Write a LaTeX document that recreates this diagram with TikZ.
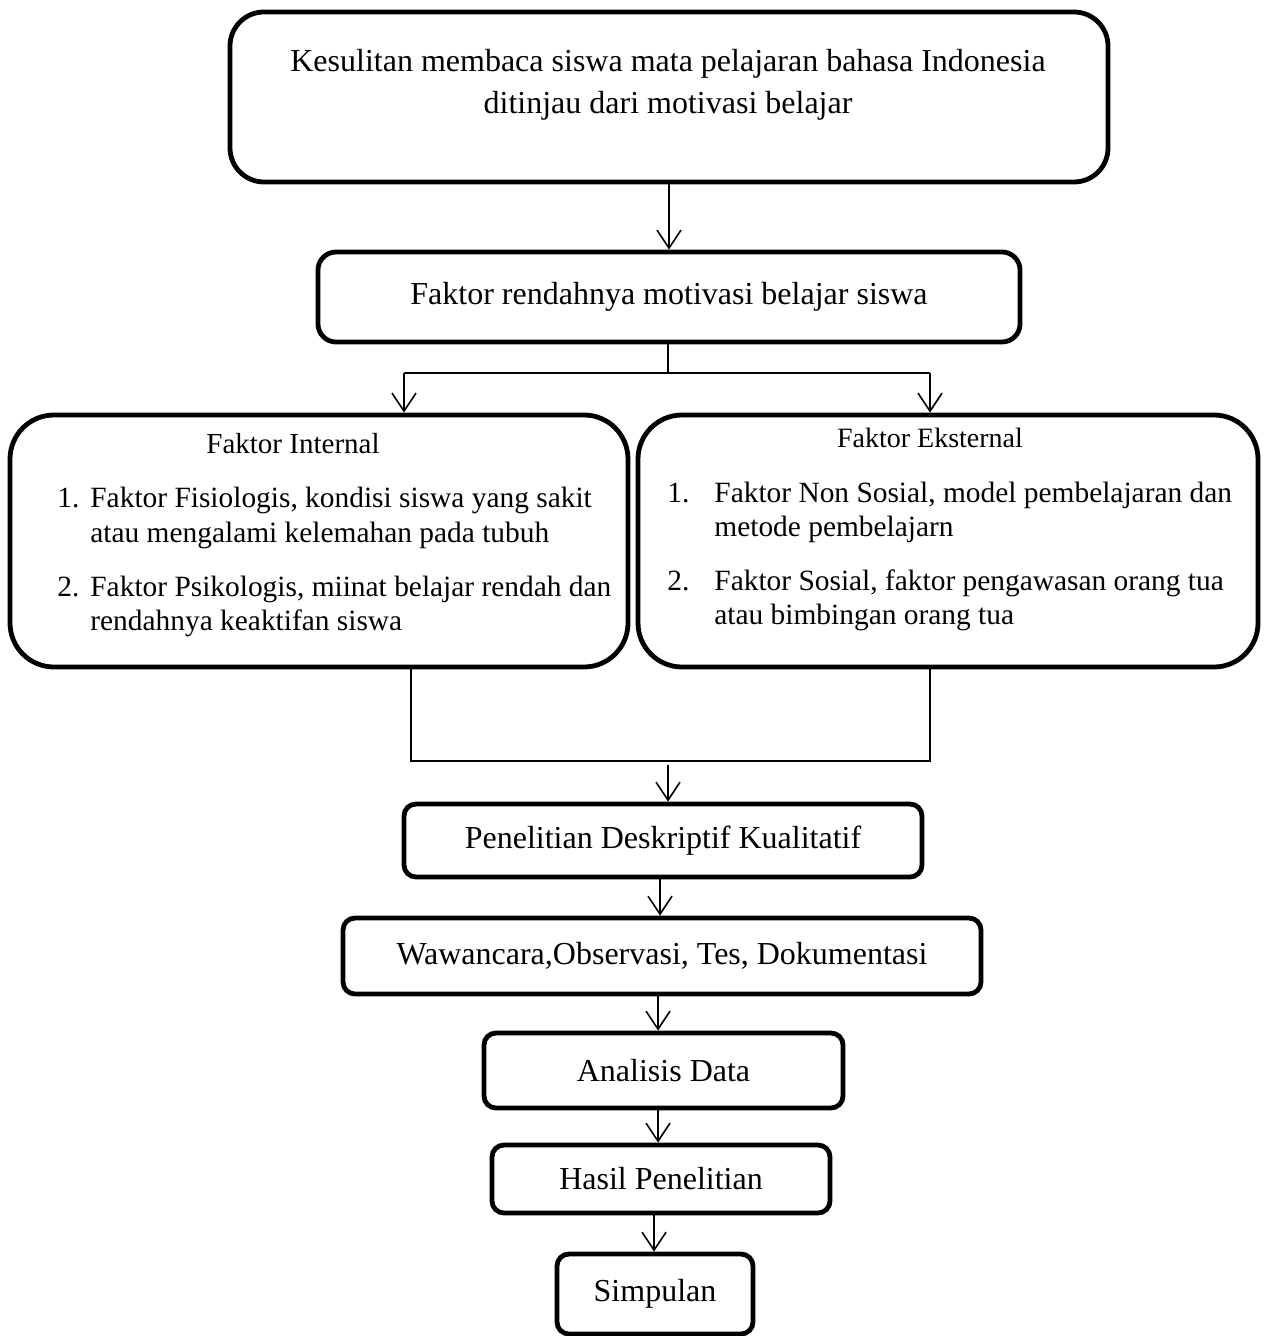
\documentclass[tikz,border=0pt]{standalone}
\usepackage{fontspec}
\setmainfont{Liberation Serif}
\usetikzlibrary{arrows.meta}
\begin{document}
\begin{tikzpicture}[x=0.5pt,y=-0.5pt,
  box/.style={draw, line width=2.4pt, inner sep=0pt, font=\fontsize{16}{19}\selectfont},
  conn/.style={line width=0.8pt},
  arr/.style={conn, -{Straight Barb[length=9pt,width=12pt,line width=0.8pt]}},
  big/.style={inner sep=0pt, font=\fontsize{16}{19}\selectfont},
  item/.style={inner sep=0pt, anchor=base west, font=\fontsize{14.7}{17}\selectfont}]
\useasboundingbox[fill=white] (0,0) rectangle (1268,1336);

% boxes
\node[box, rounded corners=17pt, minimum width=439pt, minimum height=85pt] (top) at (669,97) {};
\node[big, anchor=base] (t1) at (668,72) {Kesulitan membaca siswa mata pelajaran bahasa Indonesia};
\node[big, anchor=base] (t2) at (668,114) {ditinjau dari motivasi belajar};

\node[box, rounded corners=9pt, minimum width=351pt, minimum height=45pt] (b2) at (669,297) {Faktor rendahnya motivasi belajar siswa};

\node[box, rounded corners=22pt, minimum width=309pt, minimum height=126pt] (left) at (319,541) {};
\node[inner sep=0pt, anchor=base, font=\fontsize{14.5}{17}\selectfont] (lt) at (293,453) {Faktor Internal};
\node[item] (l1n) at (57,507) {1.};
\node[item] (l1a) at (90,507) {Faktor Fisiologis, kondisi siswa yang sakit};
\node[item] (l1b) at (90,542) {atau mengalami kelemahan pada tubuh};
\node[item] (l2n) at (57,596) {2.};
\node[item] (l2a) at (90,596) {Faktor Psikologis, miinat belajar rendah dan};
\node[item] (l2b) at (90,630) {rendahnya keaktifan siswa};

\node[box, rounded corners=22pt, minimum width=310pt, minimum height=126pt] (right) at (948,541) {};
\node[inner sep=0pt, anchor=base, font=\fontsize{14}{17}\selectfont] (rt) at (930,447) {Faktor Eksternal};
\node[item] (r1n) at (667,502) {1.};
\node[item] (r1a) at (714,502) {Faktor Non Sosial, model pembelajaran dan};
\node[item] (r1b) at (714,536) {metode pembelajarn};
\node[item] (r2n) at (667,590) {2.};
\node[item] (r2a) at (714,590) {Faktor Sosial, faktor pengawasan orang tua};
\node[item] (r2b) at (714,624) {atau bimbingan orang tua};

\node[box, rounded corners=6pt, minimum width=259pt, minimum height=36.5pt] (pdk) at (663,840.5) {Penelitian Deskriptif Kualitatif};
\node[box, rounded corners=6pt, minimum width=319pt, minimum height=38pt] (waw) at (662,956) {Wawancara,Observasi, Tes, Dokumentasi};
\node[box, rounded corners=6pt, minimum width=179.5pt, minimum height=37.5pt] (ana) at (663.5,1070.5) {Analisis Data};
\node[box, rounded corners=6pt, minimum width=169pt, minimum height=34pt] (has) at (661,1179) {Hasil Penelitian};
\node[box, rounded corners=6pt, minimum width=98pt, minimum height=40pt] (sim) at (655,1294) {Simpulan};

% connectors
\draw[arr] (top.south) -- (b2.north);

\coordinate (sp) at (668,373);
\coordinate (spl) at (404,373);
\coordinate (spr) at (930,373);
\draw[conn] (b2.south -| sp) -- (sp);
\draw[conn] (spl) -- (spr);
\draw[arr] (spl) -- (spl |- left.north);
\draw[arr] (spr) -- (spr |- right.north);

\coordinate (ml) at (411,761);
\coordinate (mr) at (930,761);
\draw[conn] (ml |- left.south) -- (ml) -- (mr) -- (mr |- right.south);
\coordinate (mm) at (668,765);
\draw[arr] (mm) -- (mm |- pdk.north);

\coordinate (a1) at (660,0);
\draw[arr] (a1 |- pdk.south) -- (a1 |- waw.north);
\coordinate (a2) at (658,0);
\draw[arr] (a2 |- waw.south) -- (a2 |- ana.north);
\draw[arr] (a2 |- ana.south) -- (a2 |- has.north);
\coordinate (a3) at (654,0);
\draw[arr] (a3 |- has.south) -- (a3 |- sim.north);
\end{tikzpicture}
\end{document}
